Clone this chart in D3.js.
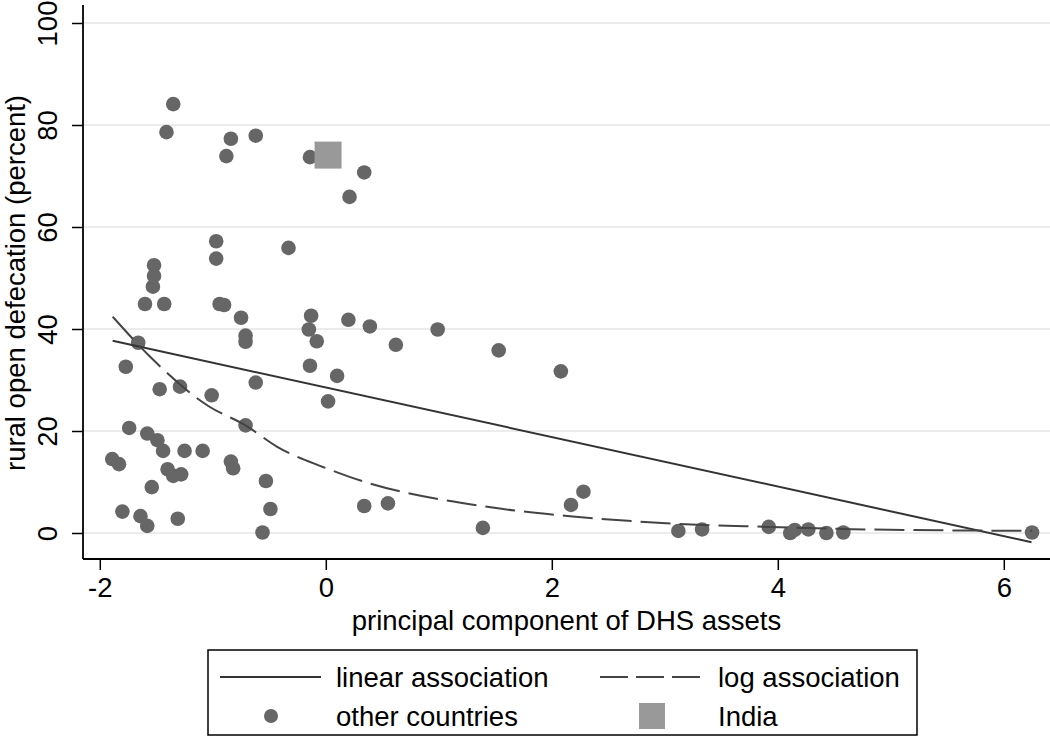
<!DOCTYPE html>
<html>
<head>
<meta charset="utf-8">
<script src="https://cdn.jsdelivr.net/npm/d3@7"></script>
<style>
    html, body { margin: 0; padding: 0; background: #fff; }
    svg text { font-family: "Liberation Sans", Arial, Helvetica, sans-serif; font-size: 27.5px; fill: #000; }
</style>
</head>
<body>
<svg id="chart" width="1050" height="743"></svg>
<script>
// other countries: asset index (x) and rural open defecation percent (y)
var otherX = [-1.35, -1.41, -0.84, -0.62, -0.88, -0.14, 0.21, 0.34, -0.97, -0.97,
    -0.33, -1.52, -1.52, -1.53, -1.60, -1.43, -0.94, -0.90, -0.75, -0.71,
    -0.71, -0.13, -0.15, -0.08, 0.20, -1.66, -1.77, -0.14, 0.10, -1.47,
    -1.29, -0.62, -1.01, 0.02, 0.39, 0.62, 0.99, 1.53, 2.08, -1.74,
    -0.71, -1.58, -1.49, -1.44, -1.25, -1.09, -1.89, -1.83, -0.84, -0.82,
    -1.40, -1.35, -1.28, -1.54, -0.53, -0.49, -1.80, -1.64, -1.58, -1.31,
    -0.56, 2.28, 2.17, 3.12, 3.33, 3.92, 4.11, 4.15, 4.27, 4.43,
    4.58, 6.25, 0.34, 0.55, 1.39];
var otherY = [84.1, 78.6, 77.3, 77.9, 73.9, 73.7, 65.9, 70.7, 57.2, 53.8,
    55.9, 52.5, 50.4, 48.3, 44.9, 44.9, 44.9, 44.7, 42.2, 38.7,
    37.5, 42.6, 39.9, 37.6, 41.8, 37.3, 32.6, 32.8, 30.8, 28.2,
    28.7, 29.5, 27.0, 25.8, 40.5, 36.9, 39.9, 35.8, 31.7, 20.6,
    21.1, 19.5, 18.2, 16.1, 16.1, 16.1, 14.5, 13.5, 14.0, 12.7,
    12.5, 11.2, 11.5, 9.0, 10.2, 4.7, 4.2, 3.3, 1.4, 2.8,
    0.1, 8.1, 5.5, 0.4, 0.7, 1.2, 0.0, 0.6, 0.7, 0.0,
    0.1, 0.1, 5.3, 5.8, 1.0];

var indiaX = [0.02];
var indiaY = [74.1];

// fitted lines
var linearX = [-1.886, 6.245];
var linearY = [37.7, -1.8];
var logX = [-1.886, -1.57, -1.04, -0.71, -0.43, -0.02, 0.21, 1.54, 2.16, 3.12, 3.91, 4.65, 6.25];
var logY = [42.4, 34.9, 24.9, 21.1, 16.9, 12.9, 11.0, 4.8, 3.3, 1.8, 1.2, 0.75, 0.42];

var xTicks = [-2, 0, 2, 4, 6];
var yTicks = [0, 20, 40, 60, 80, 100];

var xTitle = 'principal component of DHS assets';
var yTitle = 'rural open defecation (percent)';
var legendLabels = ['linear association', 'log association', 'other countries', 'India'];

var svg = d3.select('#chart');

var plotLeft = 83, plotRight = 1050, plotTop = 5, plotBottom = 559;

var x = d3.scaleLinear().domain([-2, 6]).range([99.8, 1003.8]);
var y = d3.scaleLinear().domain([0, 100]).range([533, 23]);

var zip = function (xs, ys) {
    return xs.map(function (v, i) { return [v, ys[i]]; });
};

// plain hyphen for negatives, like the original
var plainFormat = function (d) { return String(d); };

// gridlines
svg.append('g')
    .selectAll('line')
    .data(yTicks)
    .enter().append('line')
    .attr('x1', plotLeft + 1)
    .attr('x2', plotRight)
    .attr('y1', function (d) { return y(d); })
    .attr('y2', function (d) { return y(d); })
    .attr('stroke', '#ececec')
    .attr('stroke-width', 2);

// y axis
var yAxis = svg.append('g')
    .attr('transform', 'translate(' + plotLeft + ',0)')
    .call(d3.axisLeft(y).tickValues(yTicks).tickFormat(plainFormat).tickSize(11).tickSizeOuter(0));
yAxis.select('.domain').remove();
yAxis.selectAll('.tick line').attr('stroke', '#000').attr('stroke-width', 1.5);
yAxis.selectAll('.tick text')
    .attr('transform', 'rotate(-90)')
    .attr('x', 0)
    .attr('y', -26)
    .attr('dy', null)
    .attr('text-anchor', 'middle')
    .style('font-size', '27.5px')
    .style('font-family', '"Liberation Sans", Arial, sans-serif')
    .attr('fill', '#000');

// x axis
var xAxis = svg.append('g')
    .attr('transform', 'translate(0,' + plotBottom + ')')
    .call(d3.axisBottom(x).tickValues(xTicks).tickFormat(plainFormat).tickSize(11).tickSizeOuter(0));
xAxis.select('.domain').remove();
xAxis.selectAll('.tick line').attr('stroke', '#000').attr('stroke-width', 1.5);
xAxis.selectAll('.tick text')
    .attr('y', 38)
    .attr('dy', null)
    .style('font-size', '27.5px')
    .style('font-family', '"Liberation Sans", Arial, sans-serif')
    .attr('fill', '#000');

// axis lines
svg.append('line')
    .attr('x1', plotLeft).attr('x2', plotLeft)
    .attr('y1', plotTop).attr('y2', plotBottom)
    .attr('stroke', '#000').attr('stroke-width', 1.8);
svg.append('line')
    .attr('x1', plotLeft).attr('x2', plotRight)
    .attr('y1', plotBottom).attr('y2', plotBottom)
    .attr('stroke', '#000').attr('stroke-width', 1.8);

// titles
svg.append('text')
    .attr('x', (plotLeft + plotRight) / 2)
    .attr('y', 630)
    .attr('text-anchor', 'middle')
    .text(xTitle);
svg.append('text')
    .attr('transform', 'translate(25,283) rotate(-90)')
    .attr('text-anchor', 'middle')
    .text(yTitle);

// other countries
svg.append('g')
    .selectAll('circle')
    .data(zip(otherX, otherY))
    .enter().append('circle')
    .attr('cx', function (d) { return x(d[0]); })
    .attr('cy', function (d) { return y(d[1]); })
    .attr('r', 7.3)
    .attr('fill', '#666666');

// India
var sq = 27;
svg.append('g')
    .selectAll('rect')
    .data(zip(indiaX, indiaY))
    .enter().append('rect')
    .attr('x', function (d) { return x(d[0]) - sq / 2; })
    .attr('y', function (d) { return y(d[1]) - sq / 2; })
    .attr('width', sq)
    .attr('height', sq)
    .attr('fill', '#999999');

// fitted lines
var line = d3.line()
    .x(function (d) { return x(d[0]); })
    .y(function (d) { return y(d[1]); });

svg.append('path')
    .attr('d', line(zip(linearX, linearY)))
    .attr('fill', 'none')
    .attr('stroke', '#333')
    .attr('stroke-width', 2);

svg.append('path')
    .attr('d', line.curve(d3.curveMonotoneX)(zip(logX, logY)))
    .attr('fill', 'none')
    .attr('stroke', '#444')
    .attr('stroke-width', 2)
    .attr('stroke-dasharray', '30,9');

// legend
var legend = svg.append('g');
legend.append('rect')
    .attr('x', 208).attr('y', 650)
    .attr('width', 709).attr('height', 85)
    .attr('fill', 'none')
    .attr('stroke', '#000')
    .attr('stroke-width', 1.5);

legend.append('line')
    .attr('x1', 220).attr('x2', 321)
    .attr('y1', 677).attr('y2', 677)
    .attr('stroke', '#333').attr('stroke-width', 2);
legend.append('line')
    .attr('x1', 600).attr('x2', 700)
    .attr('y1', 677).attr('y2', 677)
    .attr('stroke', '#444').attr('stroke-width', 2)
    .attr('stroke-dasharray', '28,8');
legend.append('circle')
    .attr('cx', 271).attr('cy', 716)
    .attr('r', 7)
    .attr('fill', '#666666');
legend.append('rect')
    .attr('x', 639).attr('y', 703)
    .attr('width', 26).attr('height', 26)
    .attr('fill', '#999999');

var legendPos = [[336, 687], [718, 687], [336, 726], [718, 726]];
legend.selectAll('text.key')
    .data(legendLabels)
    .enter().append('text')
    .attr('class', 'key')
    .attr('x', function (d, i) { return legendPos[i][0]; })
    .attr('y', function (d, i) { return legendPos[i][1]; })
    .text(function (d) { return d; });
</script>
</body>
</html>
